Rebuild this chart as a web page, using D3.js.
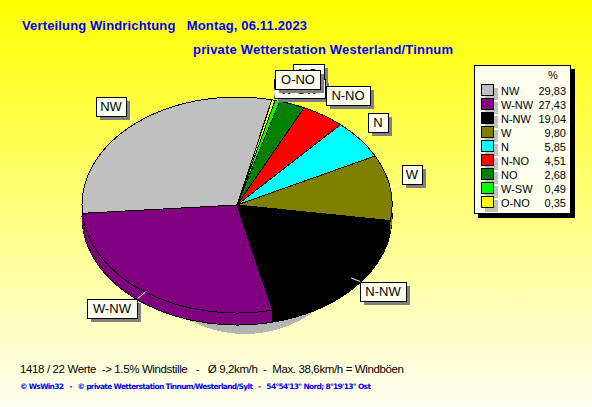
<!DOCTYPE html>
<html><head><meta charset="utf-8">
<script src="https://cdn.jsdelivr.net/npm/d3@7"></script>
<style>html,body{margin:0;padding:0;background:#fff}svg{display:block}text{white-space:pre;font-family:"Liberation Sans",Arial,sans-serif}</style>
</head><body><div id="c"></div>
<script>
const categories=["NW","W-NW","N-NW","W","N","N-NO","NO","W-SW","O-NO"];
const percents=[29.83,27.43,19.04,9.80,5.85,4.51,2.68,0.49,0.35];
const percentLabels=["29,83","27,43","19,04","9,80","5,85","4,51","2,68","0,49","0,35"];
const sliceColors=["#c0c0c0","#800080","#000000","#808000","#00ffff","#ff0000","#008000","#00ff00","#ffff00"];
const titleLine1="Verteilung Windrichtung   Montag, 06.11.2023";
const titleLine2="private Wetterstation Westerland/Tinnum";
const infoLine="1418 / 22 Werte  -> 1.5% Windstille   -   Ø 9,2km/h  -  Max. 38,6km/h = Windböen";
const footerLine="© WsWin32   -   © private Wetterstation Tinnum/Westerland/Sylt   -   54°54'13'' Nord; 8°19'13'' Ost";

const W=592,H=407,cx=237,cy=205,rx=155,ry=108,depth=12;
const svg=d3.select("#c").append("svg").attr("width",W).attr("height",H);
const grad=svg.append("defs").append("linearGradient").attr("id","bg").attr("x1",0).attr("y1",0).attr("x2",0).attr("y2",1);
grad.append("stop").attr("offset",0).attr("stop-color","#ffff00");
grad.append("stop").attr("offset",1).attr("stop-color","#fffff4");
svg.append("rect").attr("width",W).attr("height",H).attr("fill","url(#bg)");

const startDeg=13;
const pie=d3.pie().value((d,i)=>percents[i]).sort(null)
  .startAngle(startDeg*Math.PI/180).endAngle((startDeg-360)*Math.PI/180);
const arcs=pie(categories);
const arc=d3.arc().innerRadius(0).outerRadius(1);

// shadow under the pie
svg.append("ellipse").attr("cx",245).attr("cy",222).attr("rx",115).attr("ry",112).attr("fill","#b4b4b4").attr("shape-rendering","crispEdges");

// side wall
svg.append("g").attr("transform",`translate(${cx},${cy+depth}) scale(${rx},${ry})`)
  .selectAll("path").data(arcs).join("path")
  .attr("d",arc).attr("fill",(d,i)=>sliceColors[i]).attr("stroke","#000").attr("stroke-width",1)
  .attr("vector-effect","non-scaling-stroke").attr("shape-rendering","crispEdges");
for(let k=depth-1;k>0;k--){
  svg.append("g").attr("transform",`translate(${cx},${cy+k}) scale(${rx},${ry})`)
    .selectAll("path").data(arcs).join("path")
    .attr("d",arc).attr("fill",(d,i)=>sliceColors[i]).attr("shape-rendering","crispEdges");
}
// top surface
svg.append("g").attr("transform",`translate(${cx},${cy}) scale(${rx},${ry})`)
  .selectAll("path").data(arcs).join("path")
  .attr("d",arc).attr("fill",(d,i)=>sliceColors[i]).attr("stroke","#000").attr("stroke-width",1)
  .attr("vector-effect","non-scaling-stroke").attr("shape-rendering","crispEdges");

// labels: offset of each box centre from the rim point of its slice
const labelNudge=[[-25,-17],[-33,16],[32,13],[22,-13],[18,-17],[25,-20],[16,-31],[22,-12],[24,-21]];
const labelWidth=[30,50,46,20,20,44,31,51,45];
const drawOrder=[0,1,2,3,4,6,7,5,8];
const labels=svg.append("g");
drawOrder.forEach(i=>{
  const a=arcs[i], t=(a.startAngle+a.endAngle)/2;
  const px=cx+rx*Math.sin(t), py=cy-ry*Math.cos(t);
  const bx=px+labelNudge[i][0], by=py+labelNudge[i][1], w=labelWidth[i], h=19;
  const qx=Math.max(bx-w/2,Math.min(bx+w/2,px)), qy=Math.max(by-h/2,Math.min(by+h/2,py));
  labels.append("line").attr("x1",px).attr("y1",py).attr("x2",qx).attr("y2",qy).attr("stroke","#fff");
  labels.append("rect").attr("x",Math.round(bx-w/2)+4).attr("y",Math.round(by-h/2)+4).attr("width",w).attr("height",h).attr("fill","#808080").attr("shape-rendering","crispEdges");
  labels.append("rect").attr("x",Math.round(bx-w/2)+.5).attr("y",Math.round(by-h/2)+.5).attr("width",w).attr("height",h).attr("fill","#fffff0").attr("stroke","#000").attr("shape-rendering","crispEdges");
  labels.append("text").attr("x",Math.round(bx)).attr("y",Math.round(by)+5).attr("text-anchor","middle").attr("font-size",13).attr("fill","#000").text(categories[i]);
});

// legend
const lg=svg.append("g");
lg.append("rect").attr("x",478).attr("y",69).attr("width",97).attr("height",149).attr("fill","#000");
lg.append("rect").attr("x",474.5).attr("y",65.5).attr("width",96).attr("height",148).attr("fill","#fffff0").attr("stroke","#000");
lg.append("text").attr("x",553).attr("y",79).attr("text-anchor","middle").attr("font-size",11).attr("fill","#000").text("%");
const rowY=d3.scaleBand().domain(categories).range([84,210]);
const rows=lg.selectAll("g.r").data(categories).join("g").attr("class","r").attr("transform",d=>`translate(0,${Math.round(rowY(d)+rowY.bandwidth()/2)})`);
rows.append("rect").attr("x",485).attr("y",-3).attr("width",13).attr("height",12).attr("fill","#c0c0c0");
rows.append("rect").attr("x",481.5).attr("y",-6.5).attr("width",12).attr("height",11).attr("fill",(d,i)=>sliceColors[i]).attr("stroke","#000");
rows.append("text").attr("x",501).attr("y",4).attr("font-size",11).attr("fill","#000").text(d=>d);
rows.append("text").attr("x",566).attr("y",4).attr("text-anchor","end").attr("font-size",11).attr("fill","#000").text((d,i)=>percentLabels[i]);

// titles
svg.append("text").attr("x",22).attr("y",30).attr("font-size",13).attr("font-weight","bold").attr("fill","#0000ff").attr("textLength",285).text(titleLine1);
svg.append("text").attr("x",193).attr("y",54).attr("font-size",13).attr("font-weight","bold").attr("fill","#0000ff").attr("textLength",260).text(titleLine2);
svg.append("text").attr("x",20).attr("y",373).attr("font-size",11.5).attr("fill","#000").attr("textLength",384).text(infoLine);
svg.append("text").attr("x",20).attr("y",389).attr("font-size",7.5).attr("font-weight","bold").attr("fill","#0000ff").attr("style","font-family:'DejaVu Sans'").attr("textLength",351).text(footerLine);
</script></body></html>
